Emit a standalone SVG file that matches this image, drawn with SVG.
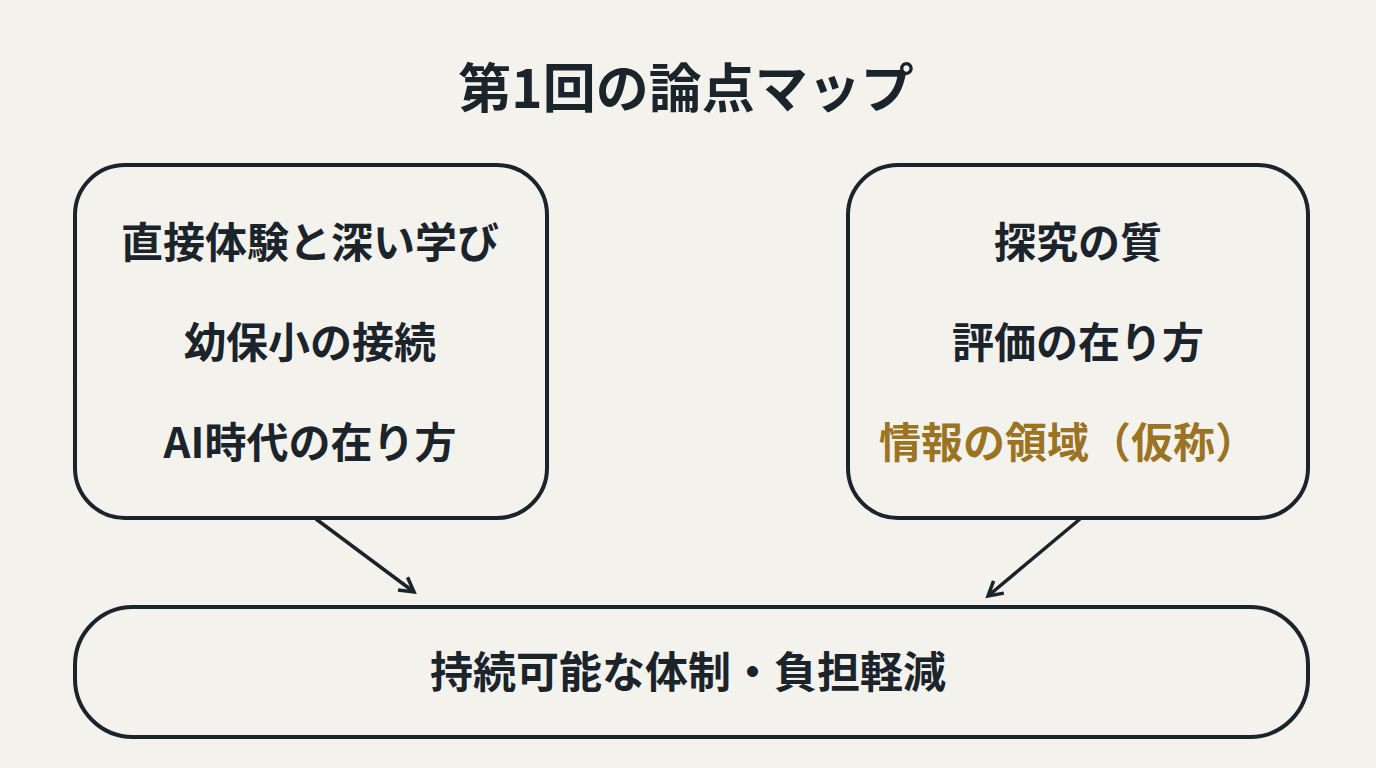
<svg xmlns="http://www.w3.org/2000/svg" width="1376" height="768" viewBox="0 0 1376 768">
<defs>
<style>
.t{font-family:"Noto Sans CJK JP","Noto Sans",sans-serif;font-weight:700;fill:#1b232b;text-anchor:middle}
.b{fill:none;stroke:#1b232b;stroke-width:4}
.c{stroke:#1b232b;stroke-width:3.5;fill:none}
</style>
<marker id="a" viewBox="0 0 20 20" refX="16" refY="10" markerWidth="20" markerHeight="20" markerUnits="userSpaceOnUse" orient="auto"><path d="M2,2 L16,10 L2,18" fill="none" stroke="#1b232b" stroke-width="3.5"/></marker>
</defs>
<rect width="1376" height="768" fill="#f3f2ed"/>
<text class="t" x="686" y="108" font-size="53">第1回の論点マップ</text>
<g id="left">
<rect class="b" x="75" y="165" width="472" height="353" rx="50"/>
<text class="t" x="310" y="258" font-size="42">直接体験と深い学び</text>
<text class="t" x="310" y="358" font-size="42">幼保小の接続</text>
<text class="t" x="310" y="458" font-size="42">AI時代の在り方</text>
</g>
<g id="right">
<rect class="b" x="848" y="165" width="460" height="353" rx="50"/>
<text class="t" x="1078" y="258" font-size="42">探究の質</text>
<text class="t" x="1078" y="358" font-size="42">評価の在り方</text>
<text class="t" x="1068" y="458" font-size="42" style="fill:#9a7422">情報の領域（仮称）</text>
</g>
<g id="bottom">
<rect class="b" x="75" y="607" width="1233" height="130" rx="58"/>
<text class="t" x="688" y="688" font-size="43">持続可能な体制・負担軽減</text>
</g>
<g id="connectors">
<path class="c" d="M316,519 L414,592" marker-end="url(#a)"/>
<path class="c" d="M1080,519 L988,596" marker-end="url(#a)"/>
</g>
</svg>
